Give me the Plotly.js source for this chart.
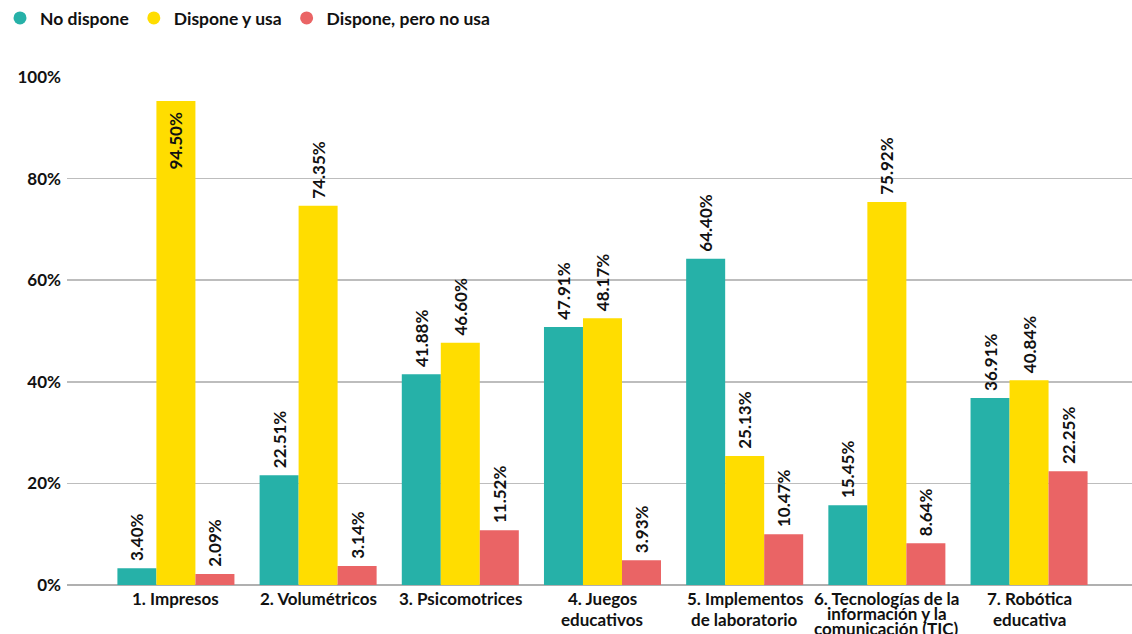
<!DOCTYPE html>
<html><head><meta charset="utf-8">
<script src="https://cdn.plot.ly/plotly-3.0.1.min.js"></script>
<style>html,body{margin:0;padding:0;background:#fff}#c{width:1132px;height:634px}</style>
</head><body><div id="c"></div>
<script>
const categories = ["1. Impresos","2. Volumétricos","3. Psicomotrices","4. Juegos<br>educativos","5. Implementos<br>de laboratorio","6. Tecnologías de la<br>información y la<br>comunicación (TIC)","7. Robótica<br>educativa"];
const seriesNames = ["No dispone","Dispone y usa","Dispone, pero no usa"];
const noDispone = [3.3, 21.6, 41.5, 50.8, 64.2, 15.7, 36.8];
const disponeUsa = [95.3, 74.65, 47.7, 52.5, 25.4, 75.4, 40.3];
const disponeNoUsa = [2.17, 3.74, 10.8, 4.87, 10.0, 8.2, 22.4];
const labelsNoDispone = ["3.40%","22.51%","41.88%","47.91%","64.40%","15.45%","36.91%"];
const labelsDisponeUsa = ["94.50%","74.35%","46.60%","48.17%","25.13%","75.92%","40.84%"];
const labelsDisponeNoUsa = ["2.09%","3.14%","11.52%","3.93%","10.47%","8.64%","22.25%"];
const colors = ["#26B1A8","#FFDD00","#EA6465"];
const yTicks = [0,20,40,60,80,100];

const FONT = "Lato, 'Open Sans', sans-serif";
const vals = [noDispone, disponeUsa, disponeNoUsa];
const labs = [labelsNoDispone, labelsDisponeUsa, labelsDisponeNoUsa];
const traces = [];
vals.forEach((v,i)=>{
  const pos = v.map(y => y > 90 ? 'inside' : 'outside');
  traces.push({
    type:'bar', x:categories, y:v, name:seriesNames[i], showlegend:false,
    marker:{color:colors[i]},
    text:labs[i].map((t,k)=> pos[k]==='outside' ? '\u00a0'+t : t+'\u00a0\u00a0'),
    textposition:pos, insidetextanchor:'end', textangle:-90, constraintext:'none',
    textfont:{family:FONT, size:17, color:'#111', weight:700},
    outsidetextfont:{family:FONT, size:17, color:'#111', weight:700},
    insidetextfont:{family:FONT, size:17, color:'#111', weight:700},
    cliponaxis:false, hoverinfo:'skip'
  });
});
seriesNames.forEach((n,i)=>{
  traces.push({type:'scatter', mode:'markers', x:[null], y:[null], name:n,
    marker:{symbol:'circle', size:13, color:colors[i]}, showlegend:true});
});

// category labels, one annotation per text line (tighter spacing for the 3-line label)
const annotations = [];
categories.forEach(cat=>{
  const lines = cat.split('<br>');
  const sp = lines.length > 2 ? 15 : 21.5;
  lines.forEach((ln,k)=>{
    annotations.push({xref:'x', yref:'paper', x:cat, y:0, yanchor:'middle', xanchor:'center',
      yshift:-(13 + k*sp), text:ln, showarrow:false,
      font:{family:FONT, size:17, weight:700, color:'#111'}});
  });
});

const layout = {
  width:1132, height:634,
  margin:{l:67, r:0, t:77, b:49},
  paper_bgcolor:'#fff', plot_bgcolor:'#fff',
  font:{family:FONT, color:'#111'},
  barmode:'group', bargap:0.177, bargroupgap:0,
  showlegend:true,
  legend:{orientation:'h', x:0, y:1, xref:'container', yref:'container', xanchor:'left', yanchor:'top',
    font:{family:FONT, size:17.5, weight:700, color:'#111'}, itemwidth:30, traceorder:'normal', tracegroupgap:0},
  xaxis:{range:[-0.766, 6.724], showgrid:false, zeroline:false, showline:false, ticks:'', showticklabels:false, fixedrange:true},
  yaxis:{range:[0,100], tickvals:yTicks, ticktext:yTicks.map(t=>t+'%'), showgrid:true, gridcolor:'#bdbdbd', gridwidth:1.5,
    zeroline:true, zerolinecolor:'#b0b0b0', zerolinewidth:2, showline:false, ticks:'',
    tickfont:{family:FONT, size:17, weight:700, color:'#111'}, ticklabelstandoff:5, fixedrange:true},
  annotations: annotations
};
Plotly.newPlot('c', traces, layout, {displayModeBar:false, staticPlot:true});
</script></body></html>
